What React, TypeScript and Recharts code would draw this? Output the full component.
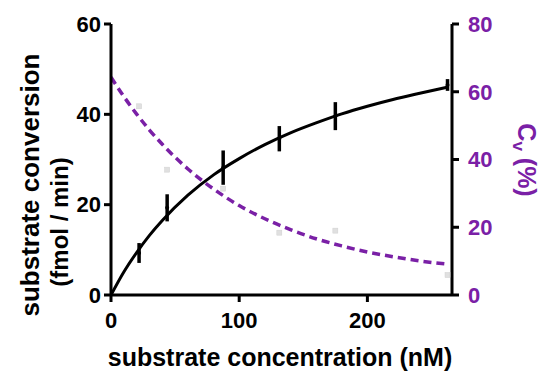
import React from "react";
import {
  ComposedChart,
  Line,
  Scatter,
  ErrorBar,
  XAxis,
  YAxis
} from "recharts";

// substrate concentration (nM) of the measured points
const concentrations = [21.9, 43.8, 87.5, 131.3, 175, 262.5];
// substrate conversion (fmol / min) and its error
const conversion = [9.3, 19.3, 28.2, 34.6, 39.6, 46.5];
const conversionErr = [2.2, 3.0, 3.8, 2.8, 3.1, 1.3];
// Cv (%) of the measured points
const cvPoints = [55.7, 37.0, 31.4, 18.4, 19.0, 5.9];

// fitted curves
const curveX = [0, 10, 20, 30, 40, 60, 80, 100, 120, 140, 160, 180, 200, 220, 240, 262.5];
const conversionFit = [0, 5.1, 9.4, 13.2, 16.5, 22.1, 26.6, 30.2, 33.3, 35.9, 38.1, 40.1, 41.8, 43.3, 44.6, 46.0];
const cvFit = [64.3, 58.6, 53.4, 48.7, 44.5, 37.2, 31.3, 26.4, 22.5, 19.3, 16.6, 14.5, 12.7, 11.3, 10.1, 9.1];

const xTicks = [0, 100, 200];
const leftTicks = [0, 20, 40, 60];
const rightTicks = [0, 20, 40, 60, 80];

const PURPLE = "#7a20a6";
const FONT = "'Liberation Sans', Arial, sans-serif";

const pointData = concentrations.map((x, i) => ({ x, y: conversion[i], err: conversionErr[i] }));
const cvData = concentrations.map((x, i) => ({ x, y: cvPoints[i] }));
const fitData = curveX.map((x, i) => ({ x, y: conversionFit[i] }));
const cvFitData = curveX.map((x, i) => ({ x, y: cvFit[i] }));

const axisLine = { stroke: "#000", strokeWidth: 3 };
const tickStyle = { fontFamily: FONT, fontWeight: 700, fontSize: 22, fill: "#000" };

const GraySquare = (props: any) => {
  const { cx, cy } = props;
  if (cx == null || cy == null) return <g />;
  return <rect x={cx - 2.5} y={cy - 2.5} width={5} height={5} fill="#e0e0e0" stroke="#d0d0d0" strokeWidth={0.5} />;
};

const Dot = (props: any) => {
  const { cx, cy } = props;
  if (cx == null || cy == null) return <g />;
  return <circle cx={cx} cy={cy} r={2} fill="#000" />;
};

export default function App() {
  return (
    <div style={{ position: "absolute", left: 0, top: 0, width: 550, height: 381, background: "#fff" }}>
      <ComposedChart width={550} height={381} margin={{ top: 24, right: 0, bottom: 0, left: 0 }}>
        <XAxis
          type="number"
          dataKey="x"
          domain={[0, 266]}
          ticks={xTicks}
          allowDataOverflow
          height={86}
          axisLine={axisLine}
          tickLine={axisLine}
          tickSize={7}
          tickMargin={10}
          tick={tickStyle}
        />
        <YAxis
          yAxisId="left"
          orientation="left"
          domain={[0, 60]}
          ticks={leftTicks}
          width={111}
          axisLine={axisLine}
          tickLine={axisLine}
          tickSize={7}
          tickMargin={3}
          tick={tickStyle}
        />
        <YAxis
          yAxisId="right"
          orientation="right"
          domain={[0, 80]}
          ticks={rightTicks}
          width={98}
          axisLine={axisLine}
          tickLine={axisLine}
          tickSize={7}
          tickMargin={9}
          tick={{ ...tickStyle, fill: PURPLE }}
        />
        <Line
          yAxisId="right"
          data={cvFitData}
          dataKey="y"
          type="monotone"
          stroke={PURPLE}
          strokeWidth={3.5}
          strokeDasharray="8 5"
          dot={false}
          isAnimationActive={false}
        />
        <Scatter
          yAxisId="right"
          data={cvData}
          dataKey="y"
          shape={<GraySquare />}
          isAnimationActive={false}
        />
        <Line
          yAxisId="left"
          data={fitData}
          dataKey="y"
          type="monotone"
          stroke="#000"
          strokeWidth={3}
          dot={false}
          isAnimationActive={false}
        />
        <Scatter
          yAxisId="left"
          data={pointData}
          dataKey="y"
          shape={<Dot />}
          isAnimationActive={false}
        >
          <ErrorBar dataKey="err" direction="y" width={0} stroke="#000" strokeWidth={3.5} />
        </Scatter>
      </ComposedChart>
      <svg
        width={550}
        height={381}
        style={{ position: "absolute", left: 0, top: 0, pointerEvents: "none" }}
      >
        <text
          x={0}
          y={0}
          transform="translate(39 185) rotate(-90)"
          textAnchor="middle"
          fontFamily={FONT}
          fontWeight={700}
          fontSize={26}
          fill="#000"
        >
          substrate conversion
        </text>
        <text
          x={0}
          y={0}
          transform="translate(68 222) rotate(-90)"
          textAnchor="middle"
          fontFamily={FONT}
          fontWeight={700}
          fontSize={24}
          fill="#000"
        >
          (fmol / min)
        </text>
        <text
          x={280}
          y={366}
          textAnchor="middle"
          fontFamily={FONT}
          fontWeight={700}
          fontSize={25}
          fill="#000"
        >
          substrate concentration (nM)
        </text>
        <text
          x={0}
          y={0}
          transform="translate(518 160) rotate(90)"
          textAnchor="middle"
          fontFamily={FONT}
          fontWeight={700}
          fontSize={25}
          fill={PURPLE}
        >
          C<tspan fontSize={17} dy={5}>v</tspan>
          <tspan dy={-5}> (%)</tspan>
        </text>
      </svg>
    </div>
  );
}
